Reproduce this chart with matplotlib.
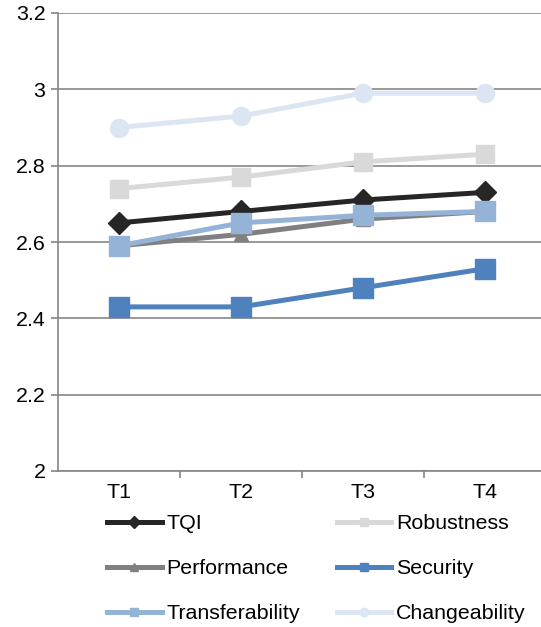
import matplotlib as mpl
import matplotlib.pyplot as plt
from matplotlib.lines import Line2D

# ── data ──────────────────────────────────────────────────────────────────────
periods = ["T1", "T2", "T3", "T4"]
tqi             = [2.65, 2.68, 2.71, 2.73]
robustness      = [2.74, 2.77, 2.81, 2.83]
performance     = [2.59, 2.62, 2.66, 2.68]
security        = [2.43, 2.43, 2.48, 2.53]
transferability = [2.59, 2.65, 2.67, 2.68]
changeability   = [2.90, 2.93, 2.99, 2.99]

series = [
    ("TQI",             tqi,             "#262626", "D", 11),
    ("Robustness",      robustness,      "#D9D9D9", "s", 13),
    ("Performance",     performance,     "#808080", "^", 10),
    ("Security",        security,        "#4F81BD", "s", 14),
    ("Transferability", transferability, "#95B3D7", "s", 14),
    ("Changeability",   changeability,   "#DCE6F2", "o", 13),
]

FS = 15.4
mpl.rcParams.update({
    "font.family": ["Liberation Sans", "DejaVu Sans"],
    "font.size":   FS,
})

GRID = "#868686"

fig = plt.figure(figsize=(5.41, 6.27), dpi=100)
ax = fig.add_axes([58 / 541, 1 - 471 / 627, 1 - 58 / 541, 458 / 627])

x = list(range(len(periods)))
handles = {}
for name, vals, color, marker, ms in series:
    ax.plot(x, vals, color=color, lw=3.6, marker=marker, ms=ms,
            mec=color, mfc=color, zorder=3, solid_joinstyle="round")
    handles[name] = Line2D([], [], color=color, lw=3.6, marker=marker,
                           ms=6, mec=color, mfc=color)

# ── axes ──────────────────────────────────────────────────────────────────────
ax.set_xlim(-0.5, -0.5 + 483 / 122)
ax.set_ylim(2.0, 3.2)
ax.set_yticks([2.0, 2.2, 2.4, 2.6, 2.8, 3.0, 3.2])
ax.set_yticklabels(["2", "2.2", "2.4", "2.6", "2.8", "3", "3.2"])
ax.set_xticks(x)
ax.set_xticklabels(periods)
ax.set_xticks([0.5, 1.5, 2.5], minor=True)

ax.grid(axis="y", color=GRID, lw=1.2, zorder=0)
for s in ("top", "right"):
    ax.spines[s].set_visible(False)
for s in ("left", "bottom"):
    ax.spines[s].set_color(GRID)
    ax.spines[s].set_linewidth(1.2)

ax.tick_params(axis="y", color=GRID, length=5, width=1.2, pad=4, labelsize=FS)
ax.tick_params(axis="x", which="major", length=0, pad=9, labelsize=FS)
ax.tick_params(axis="x", which="minor", color=GRID, length=5, width=1.2)

# ── legend (row-wise order across two columns) ──────────────────────────────
order = ["TQI", "Performance", "Transferability",
         "Robustness", "Security", "Changeability"]
fig.legend([handles[n] for n in order], order, ncol=2, frameon=False,
           loc="upper left", bbox_to_anchor=(107 / 541, 1 - 514 / 627),
           borderpad=0, borderaxespad=0, handlelength=2.55,
           handletextpad=0.22, columnspacing=1.73, labelspacing=1.22,
           fontsize=FS)

fig.savefig("out.png", dpi=100, facecolor="white")
